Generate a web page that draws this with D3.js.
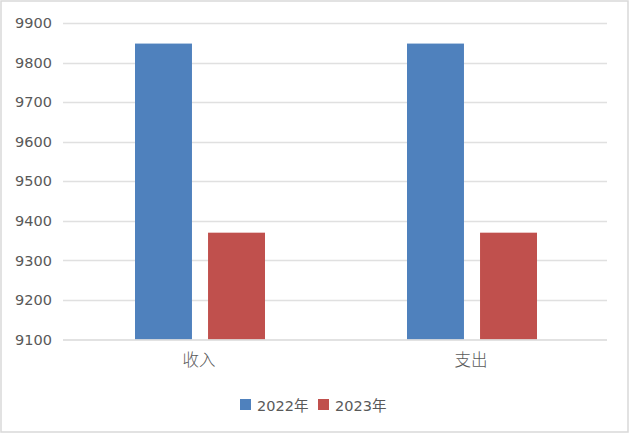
<!DOCTYPE html>
<html><head><meta charset="utf-8">
<script src="https://cdn.jsdelivr.net/npm/d3@7"></script>
<style>body{margin:0;background:#fff}</style>
</head><body><svg id="c" width="630" height="434"></svg>
<script>
const categories = ["收入", "支出"];
const seriesNames = ["2022年", "2023年"];
const values2022 = [9848, 9848];
const values2023 = [9370, 9370];
const yTicks = [9100, 9200, 9300, 9400, 9500, 9600, 9700, 9800, 9900];
const colors = ["#4f81bd", "#c0504d"];

(function(){
const svg = d3.select("#c");
svg.append("rect").attr("x",1).attr("y",1).attr("width",627).attr("height",431)
  .attr("fill","#fff").attr("stroke","#d9d9d9").attr("stroke-width",1.5);

const mLeft = 63, mRight = 607, mTop = 23, mBottom = 339.5;
const y = d3.scaleLinear().domain([9100, 9900]).range([mBottom, mTop]);
const x0 = d3.scaleBand().domain(categories).range([mLeft, mRight]).paddingInner(0).paddingOuter(0);
const x1 = d3.scaleBand().domain(seriesNames).range([x0.bandwidth()/2 - 64, x0.bandwidth()/2 + 66]).paddingInner(0.22).paddingOuter(0);

svg.append("g").selectAll("line").data(yTicks.slice(1)).join("line")
  .attr("x1", mLeft).attr("x2", mRight)
  .attr("y1", d => Math.round(y(d))+0.5).attr("y2", d => Math.round(y(d))+0.5)
  .attr("stroke", "#e0e0e0").attr("stroke-width", 1.5);

const yAxis = d3.axisLeft(y).tickValues(yTicks).tickSize(0).tickPadding(11).tickFormat(d3.format("d"));
const ga = svg.append("g").attr("transform", `translate(${mLeft},0)`).call(yAxis);
ga.select(".domain").remove();
ga.selectAll("text").attr("font-family","DejaVu Sans").attr("font-size","14.5px").attr("fill","#595959");

const data = categories.map((c,i)=>({cat:c, vals:[values2022[i], values2023[i]]}));
const groups = svg.append("g").selectAll("g").data(data).join("g")
  .attr("transform", d => `translate(${x0(d.cat)},0)`);
groups.selectAll("rect").data(d => d.vals.map((v,j)=>({s:seriesNames[j], v, j}))).join("rect")
  .attr("x", d => x1(d.s)).attr("width", x1.bandwidth())
  .attr("y", d => y(d.v)).attr("height", d => y(9100) - y(d.v))
  .attr("fill", d => colors[d.j]);

svg.append("line").attr("x1", mLeft).attr("x2", mRight).attr("y1", mBottom+0.5).attr("y2", mBottom+0.5)
  .attr("stroke","#d9d9d9").attr("stroke-width",1.5);

const xAxis = d3.axisBottom(x0).tickSize(0).tickPadding(15);
const gx = svg.append("g").attr("transform", `translate(0,${mBottom})`).call(xAxis);
gx.select(".domain").remove();
gx.selectAll("text").attr("font-family","Noto Sans CJK SC").attr("font-weight","300").attr("font-size","16.5px").attr("fill","#595959");

const legendX = [240, 318];
const lg = svg.append("g").selectAll("g").data(seriesNames).join("g")
  .attr("transform", (d,i)=>`translate(${legendX[i]},399)`);
lg.append("rect").attr("width",11).attr("height",11).attr("fill",(d,i)=>colors[i]);
lg.append("text").attr("x",17).attr("y",11.5).text(d=>d)
  .attr("font-family","DejaVu Sans, Noto Sans CJK SC").attr("font-size","14.5px").attr("fill","#595959");
})();
</script></body></html>
